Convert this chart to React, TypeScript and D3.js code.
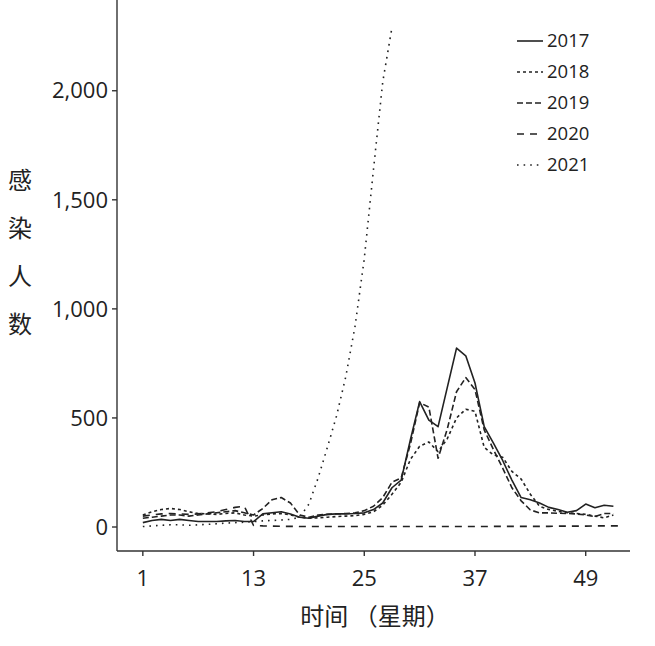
import * as React from 'react';
import * as d3 from 'd3';

// weekly counts, index 0 = week 1
const y2017 = [20, 30, 35, 30, 35, 30, 25, 25, 25, 28, 30, 25, 25, 60, 65, 70, 60, 45, 40, 50,
    58, 60, 60, 62, 65, 80, 110, 180, 215, 400, 575, 490, 460, 640, 820, 785, 660, 460, 385, 305,
    215, 135, 125, 110, 90, 80, 68, 75, 105, 88, 100, 95];
const y2018 = [55, 70, 80, 85, 80, 70, 62, 60, 58, 62, 65, 55, 50, 55, 60, 62, 55, 45, 40, 42,
    45, 48, 50, 52, 58, 70, 100, 150, 205, 310, 370, 390, 345, 405, 500, 540, 530, 365, 330, 320,
    255, 220, 150, 95, 80, 72, 65, 62, 58, 50, 42, 55];
const y2019 = [40, 45, 50, 55, 55, 50, 55, 60, 65, 70, 75, 65, 55, 85, 125, 135, 110, 55, 45, 55,
    58, 60, 62, 65, 75, 95, 135, 205, 225, 380, 570, 550, 315, 450, 620, 685, 630, 445, 355, 270,
    180, 120, 78, 65, 65, 63, 62, 60, 55, 48, 62, 62];
const y2020 = [50, 55, 60, 62, 60, 58, 60, 65, 70, 80, 90, 95, 7, 5, 4, 3, 3, 2, 2, 2,
    2, 2, 2, 2, 2, 2, 2, 2, 2, 2, 2, 2, 2, 2, 2, 2, 2, 2, 3, 3,
    3, 3, 3, 3, 3, 4, 4, 4, 4, 5, 5, 5, 5];
const y2021 = [2, 5, 8, 10, 10, 8, 10, 12, 15, 18, 20, 22, 25, 28, 30, 32, 35, 45, 105, 225,
    365, 510, 690, 920, 1230, 1640, 2040, 2290];

const years = ['2017', '2018', '2019', '2020', '2021'];
const seriesValues = [y2017, y2018, y2019, y2020, y2021];
const dashes = ['', '3,3', '6,3', '7,6', '1.6,5'];

const xTicks = [1, 13, 25, 37, 49];
const yTicks = [0, 500, 1000, 1500, 2000];
const yTitle = ['感', '染', '人', '数'];
const xTitle = '时间 （星期）';

const W = 655;
const H = 646;
const font = '"Open Sans", "Noto Sans CJK SC", sans-serif';
const ink = '#222';

export default function App() {
    const x = d3.scaleLinear().domain([-1.8, 53.8]).range([117, 630]);
    const y = d3.scaleLinear().domain([-110, 2416]).range([551, 0]);
    const fmt = d3.format(',');

    const line = d3.line<number>()
        .x((_, i) => x(i + 1))
        .y(d => y(d));

    const [x0, x1] = x.range();
    const [yb, yt] = y.range();

    return (
        <svg width={W} height={H} style={{ position: 'absolute', left: 0, top: 0, background: '#fff' }}
            fontFamily={font}>
            <rect width={W} height={H} fill="#fff" />

            {/* series */}
            {seriesValues.map((vals, k) => (
                <path key={years[k]} d={line(vals) || ''} fill="none" stroke={ink}
                    strokeWidth={1.6} strokeDasharray={dashes[k] || undefined}
                    strokeLinejoin="round" />
            ))}

            {/* axes */}
            <line x1={x0} x2={x0} y1={yt} y2={yb} stroke="#333" strokeWidth={1.4} />
            <line x1={x0} x2={x1} y1={yb} y2={yb} stroke="#333" strokeWidth={1.4} />

            {yTicks.map(t => (
                <g key={t}>
                    <line x1={x0 - 5} x2={x0} y1={y(t)} y2={y(t)} stroke="#333" strokeWidth={1.4} />
                    <text x={x0 - 9} y={y(t)} dy="0.35em" textAnchor="end" fontSize={22} fill={ink}>
                        {fmt(t)}
                    </text>
                </g>
            ))}
            {xTicks.map(t => (
                <g key={t}>
                    <line x1={x(t)} x2={x(t)} y1={yb} y2={yb + 5} stroke="#333" strokeWidth={1.4} />
                    <text x={x(t)} y={yb + 27} dy="0.35em" textAnchor="middle" fontSize={22} fill={ink}>
                        {t}
                    </text>
                </g>
            ))}

            {/* titles */}
            {yTitle.map((c, i) => (
                <text key={c} x={20} y={181 + i * 48} dy="0.35em" textAnchor="middle"
                    fontSize={24} fill={ink} fontFamily='"Noto Sans CJK SC", sans-serif'>
                    {c}
                </text>
            ))}
            <text x={375} y={617} dy="0.35em" textAnchor="middle" fontSize={24} fill={ink}
                fontFamily='"Noto Sans CJK SC", sans-serif'>
                {xTitle}
            </text>

            {/* legend */}
            {years.map((yr, k) => {
                const ly = 41 + k * 31;
                return (
                    <g key={yr}>
                        <line x1={517} x2={543} y1={ly} y2={ly} stroke={ink} strokeWidth={1.6}
                            strokeDasharray={dashes[k] || undefined} />
                        <text x={547} y={ly} dy="0.35em" fontSize={18.5} fill={ink}>{yr}</text>
                    </g>
                );
            })}
        </svg>
    );
}
